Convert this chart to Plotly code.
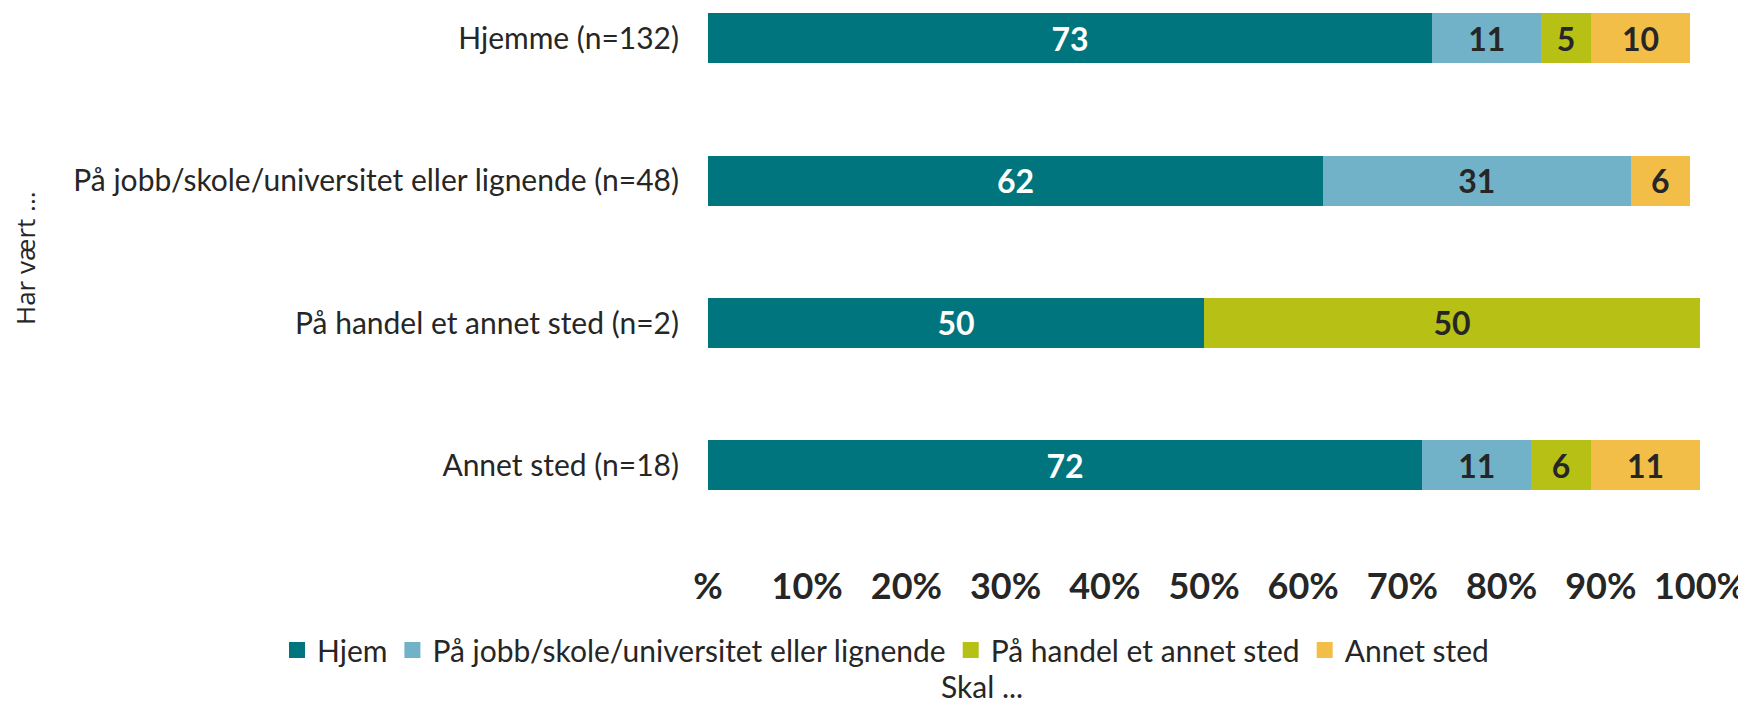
import plotly.graph_objects as go

categories = [
    "Hjemme (n=132)",
    "På jobb/skole/universitet eller lignende (n=48)",
    "På handel et annet sted (n=2)",
    "Annet sted (n=18)",
]
series_names = ["Hjem", "På jobb/skole/universitet eller lignende", "På handel et annet sted", "Annet sted"]
hjem = [73, 62, 50, 72]
jobb = [11, 31, 0, 11]
handel = [5, 0, 50, 6]
annet = [10, 6, 0, 11]
tick_vals = [0, 10, 20, 30, 40, 50, 60, 70, 80, 90, 100]
tick_text = ["%", "10%", "20%", "30%", "40%", "50%", "60%", "70%", "80%", "90%", "100%"]

colors = ["#00757E", "#72B2C9", "#B7C015", "#F2BE48"]
label_colors = ["#FFFFFF", "#262626", "#262626", "#262626"]
FONT = "Lato, 'Liberation Sans', sans-serif"
DARK = "#262626"

# figure is placed at (8, 8) in the page (default body margin)
W, H = 1738, 698
L, R, T, B = 700, 46, 0, 146
PH = H - T - B  # 552
PW = W - L - R  # 992

fig = go.Figure()
for name, vals, col, lcol in zip(series_names, [hjem, jobb, handel, annet], colors, label_colors):
    fig.add_trace(go.Bar(
        y=categories, x=vals, name=name, orientation="h",
        marker=dict(color=col, line=dict(width=0)),
        text=[str(v) if v else "" for v in vals],
        textposition="inside", insidetextanchor="middle",
        textfont=dict(family=FONT, size=32, color=lcol, weight="bold"),
        hoverinfo="skip", legendgroup=name, showlegend=False,
    ))
# legend entries (square swatches), no data drawn
for name, col in zip(series_names, colors):
    fig.add_trace(go.Scatter(
        x=[None], y=[None], mode="markers", name=name, legendgroup=name,
        marker=dict(symbol="square", size=16, color=col, line=dict(width=0)),
        hoverinfo="skip", showlegend=True,
    ))

fig.update_layout(
    barmode="stack",
    bargap=0.649,
    width=W, height=H,
    margin=dict(l=L, r=R, t=T, b=B, autoexpand=False),
    plot_bgcolor="white", paper_bgcolor="white",
    font=dict(family=FONT, color=DARK),
    uniformtext=dict(minsize=30, mode="show"),
    showlegend=True,
    legend=dict(
        orientation="h", xref="paper", x=(277 - 8 - L) / PW, xanchor="left",
        y=(PH - 642) / PH, yanchor="middle",
        font=dict(family=FONT, size=30, color=DARK),
        traceorder="normal", bgcolor="rgba(0,0,0,0)",
    ),
    xaxis=dict(
        range=[0, 100], tickvals=tick_vals, ticktext=tick_text,
        tickfont=dict(family=FONT, size=36, color=DARK, weight="bold"),
        showgrid=False, zeroline=False, showline=False, ticks="",
        ticklabelstandoff=2, ticklabeloverflow="allow",
    ),
    yaxis=dict(
        categoryorder="array", categoryarray=categories,
        range=[3.6655, -0.2136],
        tickfont=dict(family=FONT, size=30, color=DARK),
        showgrid=False, zeroline=False, showline=False, ticks="",
        ticklabelstandoff=28,
    ),
    annotations=[
        dict(text="Har vært ...", xref="paper", yref="paper",
             x=(17 - L) / PW, y=(PH - 250) / PH, xanchor="center", yanchor="middle",
             textangle=-90, showarrow=False,
             font=dict(family="'Open Sans', sans-serif", size=26, color=DARK)),
        dict(text="Skal ...", xref="paper", yref="paper",
             x=(974 - L) / PW, y=(PH - 698) / PH, xanchor="center", yanchor="bottom",
             showarrow=False,
             font=dict(family=FONT, size=30, color=DARK)),
    ],
)

fig.write_html("out.html")
